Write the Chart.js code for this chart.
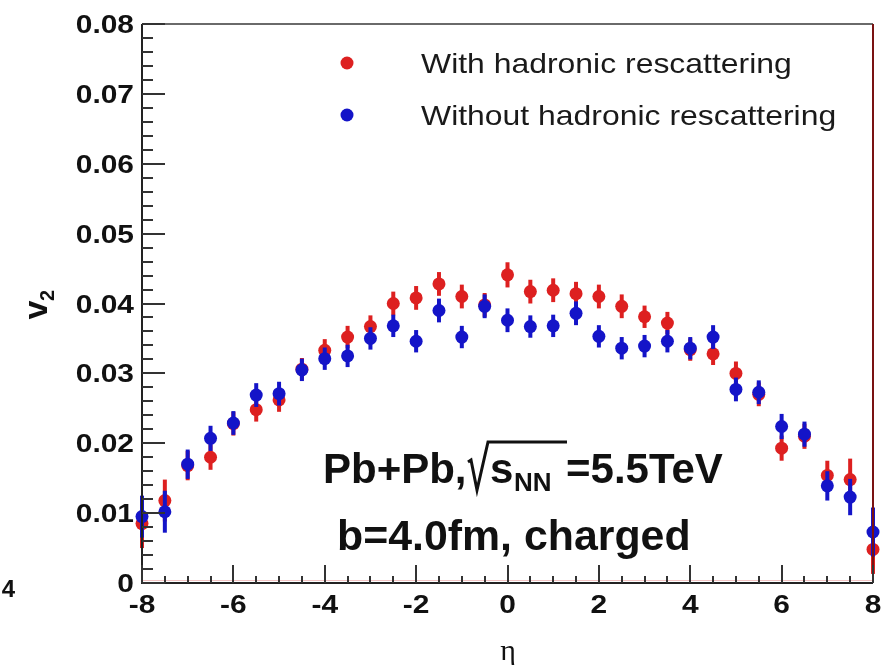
<!DOCTYPE html>
<html>
<head>
<meta charset="utf-8">
<script src="https://cdn.jsdelivr.net/npm/chart.js@4"></script>
<style>
  html, body { margin: 0; padding: 0; background: #ffffff; }
  #wrap { width: 890px; height: 665px; position: relative; }
</style>
</head>
<body>
<div id="wrap"><canvas id="v2Chart"></canvas></div>
<script>
// eta bins (x) and v2 values
const etaValues = [-8, -7.5, -7, -6.5, -6, -5.5, -5, -4.5, -4, -3.5, -3, -2.5, -2, -1.5, -1, -0.5,
  0, 0.5, 1, 1.5, 2, 2.5, 3, 3.5, 4, 4.5, 5, 5.5, 6, 6.5, 7, 7.5, 8];

// With hadronic rescattering (red)
const v2With = [0.0085, 0.0118, 0.0168, 0.0180, 0.0228, 0.0248, 0.0262, 0.0306, 0.0333, 0.0352,
  0.0367, 0.0400, 0.0408, 0.0428, 0.0410, 0.0398, 0.0441, 0.0417, 0.0419, 0.0414, 0.0410,
  0.0396, 0.0381, 0.0372, 0.0334, 0.0328, 0.0300, 0.0270, 0.0193, 0.0210, 0.0154, 0.0148, 0.0048];
const errWith = [0.0035, 0.0030, 0.0021, 0.0018, 0.0017, 0.0017, 0.0017, 0.0016, 0.0016, 0.0016,
  0.0016, 0.0017, 0.0017, 0.0017, 0.0017, 0.0017, 0.0018, 0.0017, 0.0017, 0.0017, 0.0017,
  0.0017, 0.0016, 0.0016, 0.0016, 0.0016, 0.0017, 0.0017, 0.0018, 0.0018, 0.0021, 0.0030, 0.0035];

// Without hadronic rescattering (blue)
const v2Without = [0.0095, 0.0102, 0.0170, 0.0207, 0.0229, 0.0269, 0.0271, 0.0305, 0.0321, 0.0325,
  0.0350, 0.0368, 0.0346, 0.0390, 0.0352, 0.0396, 0.0376, 0.0367, 0.0368, 0.0386, 0.0353,
  0.0336, 0.0339, 0.0346, 0.0336, 0.0352, 0.0277, 0.0273, 0.0224, 0.0213, 0.0139, 0.0123, 0.0073];
const errWithout = [0.0030, 0.0030, 0.0021, 0.0018, 0.0017, 0.0017, 0.0017, 0.0016, 0.0016, 0.0016,
  0.0016, 0.0016, 0.0016, 0.0017, 0.0016, 0.0017, 0.0017, 0.0016, 0.0016, 0.0017, 0.0016,
  0.0016, 0.0016, 0.0016, 0.0016, 0.0017, 0.0017, 0.0017, 0.0018, 0.0018, 0.0021, 0.0026, 0.0035];

// Axis ticks
const xMajorTicks = [-8, -6, -4, -2, 0, 2, 4, 6, 8];
const yMajorTicks = [0, 0.01, 0.02, 0.03, 0.04, 0.05, 0.06, 0.07, 0.08];
const yTickLabels = ['0', '0.01', '0.02', '0.03', '0.04', '0.05', '0.06', '0.07', '0.08'];

const seriesLabels = ['With hadronic rescattering', 'Without hadronic rescattering'];
const redColor = '#dd2020';
const blueColor = '#1414c8';

// Draw text with a small horizontal stretch (the source figure is a bit wide)
function drawText(ctx, text, x, y, font, align, sx) {
  ctx.save();
  ctx.font = font;
  ctx.textAlign = align || 'left';
  ctx.textBaseline = 'alphabetic';
  ctx.translate(x, y);
  ctx.scale(sx || 1, 1);
  ctx.fillText(text, 0, 0);
  ctx.restore();
}

// Vertical error bars, drawn just before each dataset's points
const errorBarPlugin = {
  id: 'errorBars',
  beforeDatasetDraw(chart, args) {
    const ds = chart.data.datasets[args.index];
    const { ctx, scales: { x, y } } = chart;
    ctx.save();
    ctx.strokeStyle = ds.borderColor;
    ctx.lineWidth = 4;
    ds.data.forEach((p, i) => {
      const px = x.getPixelForValue(p.x);
      ctx.beginPath();
      ctx.moveTo(px, y.getPixelForValue(p.y - ds.errors[i]));
      ctx.lineTo(px, y.getPixelForValue(p.y + ds.errors[i]));
      ctx.stroke();
    });
    ctx.restore();
  }
};

// ROOT-style frame, inward ticks, labels, legend and annotation
const framePlugin = {
  id: 'rootFrame',
  afterDraw(chart) {
    const { ctx, chartArea: a, scales: { x, y } } = chart;
    ctx.save();

    // frame
    ctx.lineWidth = 2;
    ctx.strokeStyle = '#6a6a6a';
    ctx.beginPath(); ctx.moveTo(a.left, a.top); ctx.lineTo(a.right, a.top); ctx.stroke();
    ctx.strokeStyle = '#7a1212';
    ctx.beginPath(); ctx.moveTo(a.right, a.top); ctx.lineTo(a.right, a.bottom); ctx.stroke();
    ctx.strokeStyle = '#f3c4c4';
    ctx.lineWidth = 1;
    ctx.beginPath(); ctx.moveTo(a.left, a.bottom - 2.5); ctx.lineTo(a.right, a.bottom - 2.5); ctx.stroke();
    ctx.lineWidth = 2;
    ctx.strokeStyle = '#222222';
    ctx.beginPath(); ctx.moveTo(a.left, a.top); ctx.lineTo(a.left, a.bottom); ctx.lineTo(a.right, a.bottom); ctx.stroke();

    // y ticks: major every 0.01, minor every 0.002
    ctx.strokeStyle = '#333333';
    ctx.lineWidth = 2;
    for (let k = 0; k <= 40; k++) {
      const py = Math.round(y.getPixelForValue(k * 0.002));
      const len = k % 5 === 0 ? 23 : 11;
      ctx.beginPath(); ctx.moveTo(a.left, py); ctx.lineTo(a.left + len, py); ctx.stroke();
    }
    // x ticks: major every 2, minor every 0.5
    for (let k = 0; k <= 32; k++) {
      const px = Math.round(x.getPixelForValue(-8 + k * 0.5));
      const len = k % 4 === 0 ? 18 : 7;
      ctx.beginPath(); ctx.moveTo(px, a.bottom); ctx.lineTo(px, a.bottom - len); ctx.stroke();
    }

    // tick labels
    ctx.fillStyle = '#111111';
    const tickFont = 'bold 26px "Liberation Sans", Arial, sans-serif';
    yMajorTicks.forEach((v, i) => {
      drawText(ctx, yTickLabels[i], a.left - 8, y.getPixelForValue(v) + 9, tickFont, 'right', 1.15);
    });
    xMajorTicks.forEach(v => {
      drawText(ctx, String(v), x.getPixelForValue(v), a.bottom + 30, tickFont, 'center', 1.15);
    });

    // axis titles
    drawText(ctx, '\u03b7', 508, 660, '30px "Liberation Serif", serif', 'center', 1);
    ctx.save();
    ctx.translate(47, 310);
    ctx.rotate(-Math.PI / 2);
    drawText(ctx, 'v', 0, 0, 'bold 34px "Liberation Sans", Arial, sans-serif', 'center', 1);
    drawText(ctx, '2', 9, 7, 'bold 20px "Liberation Sans", Arial, sans-serif', 'left', 1);
    ctx.restore();
    // stray label fragment at the left edge
    drawText(ctx, '4', 15, 597, 'bold 24px "Liberation Sans", Arial, sans-serif', 'right', 1);

    // legend
    const legendFont = '28px "Liberation Sans", Arial, sans-serif';
    chart.data.datasets.forEach((ds, i) => {
      const cy = 63 + i * 52;
      ctx.fillStyle = ds.backgroundColor;
      ctx.beginPath(); ctx.arc(347, cy, 6.5, 0, Math.PI * 2); ctx.fill();
      ctx.fillStyle = '#1a1a1a';
      drawText(ctx, ds.label, 421, cy + 10, legendFont, 'left', 1.14);
    });

    // annotation line 1: Pb+Pb, sqrt(s_NN)=5.5TeV
    const bigFont = 'bold 42px "Liberation Sans", Arial, sans-serif';
    const subFont = 'bold 26px "Liberation Sans", Arial, sans-serif';
    ctx.fillStyle = '#111111';
    drawText(ctx, 'Pb+Pb,', 323, 483, bigFont, 'left', 1);
    ctx.strokeStyle = '#111111';
    ctx.lineWidth = 3;
    ctx.beginPath();
    ctx.moveTo(468, 462); ctx.lineTo(471, 460);
    ctx.lineTo(477, 490); ctx.lineTo(488, 442); ctx.lineTo(567, 442);
    ctx.stroke();
    drawText(ctx, 's', 490, 483, bigFont, 'left', 1);
    drawText(ctx, 'NN', 514, 491, subFont, 'left', 1);
    drawText(ctx, '=5.5TeV', 566, 483, bigFont, 'left', 1);
    // line 2
    drawText(ctx, 'b=4.0fm, charged', 337, 550, bigFont, 'left', 1.02);

    ctx.restore();
  }
};

const ctx = document.getElementById('v2Chart');
new Chart(ctx, {
  type: 'scatter',
  data: {
    datasets: [
      {
        label: seriesLabels[0],
        data: etaValues.map((e, i) => ({ x: e, y: v2With[i] })),
        errors: errWith,
        backgroundColor: redColor,
        borderColor: redColor,
        pointRadius: 6.5,
        pointBorderWidth: 0,
        order: 2
      },
      {
        label: seriesLabels[1],
        data: etaValues.map((e, i) => ({ x: e, y: v2Without[i] })),
        errors: errWithout,
        backgroundColor: blueColor,
        borderColor: blueColor,
        pointRadius: 6.5,
        pointBorderWidth: 0,
        order: 1
      }
    ]
  },
  options: {
    responsive: true,
    maintainAspectRatio: false,
    devicePixelRatio: 1,
    animation: false,
    clip: false,
    layout: { padding: { left: 134, top: 24, right: 17, bottom: 74 } },
    plugins: {
      legend: { display: false },
      tooltip: { enabled: false }
    },
    scales: {
      x: {
        type: 'linear', min: -8, max: 8,
        grid: { display: false }, border: { display: false },
        ticks: { display: false }
      },
      y: {
        type: 'linear', min: 0, max: 0.08,
        grid: { display: false }, border: { display: false },
        ticks: { display: false }
      }
    }
  },
  plugins: [errorBarPlugin, framePlugin]
});
</script>
</body>
</html>
